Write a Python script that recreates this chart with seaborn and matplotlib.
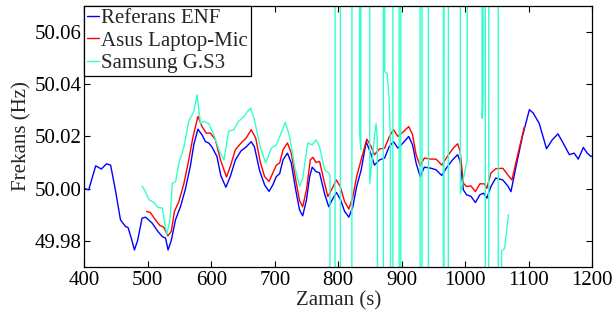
# ENF comparison plot: reference vs. two recording devices

import numpy as np
import pandas as pd
import matplotlib
matplotlib.use("Agg")
import matplotlib.pyplot as plt
import seaborn as sns

# -------------------------------
# 1. Data
# -------------------------------
ref_t = [400, 407, 418, 427, 435, 441.5, 449, 457, 465, 469, 474, 479, 484, 491, 496.5,
         507, 516, 523, 528, 532, 537, 543.7, 551.5, 559, 567, 572.5, 579, 585.5, 591, 596,
         601, 609, 615, 623, 630, 638, 647, 655, 663, 668, 676, 684, 691, 697, 702.5,
         707.7, 713, 720, 726, 733, 739, 744, 750, 755, 759, 765, 770.6, 778.5, 785, 790.6,
         797, 803.6, 810, 816.7, 823, 829, 836, 844, 851, 857, 865, 873, 880, 887, 894,
         902, 911, 917, 922.6, 929, 935.6, 946, 954, 963, 970, 980, 988, 992, 997, 1002,
         1009, 1016, 1023, 1029, 1034, 1040.5, 1048, 1059, 1067, 1072, 1080, 1090, 1101, 1107,
         1116.5, 1128, 1137, 1146, 1153, 1164, 1171.5, 1178, 1186, 1192, 1198, 1200]
ref_f = [50.000, 49.9995, 50.0087, 50.0075, 50.0095, 50.009, 49.9995, 49.988, 49.9854, 49.985,
         49.981, 49.9764, 49.980, 49.9886, 49.989, 49.9867, 49.9835, 49.9815, 49.981, 49.9764,
         49.980, 49.988, 49.993, 49.9995, 50.0085, 50.0168, 50.0228, 50.0206, 50.018, 50.0175,
         50.016, 50.0123, 50.005, 50.0005, 50.0046, 50.011, 50.0145, 50.016, 50.018, 50.016,
         50.007, 50.0014, 49.9989, 50.0014, 50.0046, 50.0057, 50.011, 50.0136, 50.0098, 49.9995,
         49.9918, 49.9895, 49.9957, 50.0046, 50.0082, 50.0065, 50.006, 49.998, 49.993, 49.9957,
         49.9985, 49.9957, 49.9912, 49.989, 49.993, 50.0008, 50.007, 50.018, 50.0136, 50.009,
         50.011, 50.0117, 50.016, 50.018, 50.0155, 50.0175, 50.020, 50.0168, 50.0098, 50.0046,
         50.0082, 50.0078, 50.0072, 50.005, 50.0078, 50.011, 50.013, 50.0104, 49.9995, 49.9976,
         49.997, 49.9946, 49.9976, 49.9982, 49.9963, 50.0008, 50.004, 50.0033, 50.001, 49.9988,
         50.0085, 50.020, 50.0303, 50.029, 50.025, 50.0153, 50.0187, 50.021, 50.018, 50.013,
         50.0136, 50.0113, 50.0158, 50.0136, 50.0123, 50.0125]

asus_t = [498, 504, 512, 519, 525, 531.6, 537, 542, 549, 557, 564.6, 571.4, 579, 585.5, 592,
          598.7, 606.6, 614.5, 624, 630, 638, 647, 655, 663, 670, 677, 684, 691, 697, 702.5,
          707.7, 713, 720, 726, 733, 739, 744, 750, 756, 760, 765, 770.6, 778.5, 783.6, 790.6,
          797, 803, 810, 816.7, 823, 829, 836, 845, 852, 857, 865, 873, 880.6, 887, 894,
          902, 911, 917, 922.6, 929, 935.6, 946, 954, 963, 971, 981, 988, 992, 997, 1002,
          1009, 1016, 1023, 1030, 1034, 1040.5, 1048, 1059, 1067, 1073.5, 1082, 1093]
asus_f = [49.9912, 49.9908, 49.988, 49.9858, 49.9852, 49.9818, 49.9835, 49.9912, 49.995, 50.002,
          50.011, 50.020, 50.0277, 50.0238, 50.0213, 50.0213, 50.0187, 50.011, 50.0044, 50.0085,
          50.0149, 50.0175, 50.0194, 50.0226, 50.0194, 50.0104, 50.0046, 50.0027, 50.006, 50.009,
          50.0098, 50.0149, 50.0175, 50.0136, 50.0033, 49.9954, 49.993, 49.9995, 50.011, 50.012,
          50.010, 50.0104, 50.002, 49.9969, 50.0001, 50.0033, 50.0008, 49.995, 49.9921, 49.9969,
          50.0046, 50.011, 50.019, 50.016, 50.013, 50.0152, 50.0155, 50.020, 50.0226, 50.020,
          50.0217, 50.0238, 50.0207, 50.013, 50.0087, 50.0117, 50.0113, 50.0113, 50.009, 50.012,
          50.0155, 50.0172, 50.0142, 50.002, 50.0008, 50.001, 49.9988, 50.0018, 50.0018, 50.0001,
          50.006, 50.0076, 50.0078, 50.0053, 50.0033, 50.0123, 50.0236]

# Samsung: smooth part, then the estimate breaks down and jumps far off the axis
sams_t = [491, 496.5, 502, 510, 516, 523, 530, 535, 538.7, 544, 549, 557, 564.6, 572.5, 577.7,
          583, 588, 596, 604, 612, 620, 627.5, 635.4, 643, 651, 655, 662, 668, 677, 685.7,
          694.6, 702.5, 710, 716.6, 723.4, 731.3, 739, 744, 752, 759, 765, 770.6, 778.5, 785,
          787, 787.4, 794.8, 795.2, 803.2, 803.6, 821.3, 821.7, 833.3, 833.7, 835.5, 836,
          849.2, 849.6, 857, 859.5, 861.5, 863, 870.8, 871.2, 872.8, 873.2, 877, 880, 882, 884,
          885.8, 886.2, 895.8, 896.2, 898.3, 898.7, 928.8, 929.2, 931.8, 932.2, 941.8, 942.2,
          965.4, 965.8, 966.2, 966.6, 973.2, 973.6, 992, 992.4, 1003, 1004, 1026, 1026.5, 1028,
          1028.5, 1031.4, 1031.8, 1036.8, 1037.2, 1051.8, 1052.2, 1056.8, 1057.2, 1062, 1068]
sams_f = [50.001, 49.9988, 49.9957, 49.9946, 49.9927, 49.9925, 49.9822, 49.988, 50.002, 50.0027,
          50.0098, 50.016, 50.0258, 50.0296, 50.036, 50.025, 50.0258, 50.025, 50.0207, 50.0149,
          50.011, 50.022, 50.0226, 50.0258, 50.0275, 50.029, 50.0309, 50.0264, 50.016, 50.0098,
          50.0155, 50.0168, 50.0213, 50.0255, 50.020, 50.0085, 50.0008, 50.004, 50.0175, 50.0168,
          50.0187, 50.016, 50.0072, 50.006,
          50.005, 49.7, 49.7, 50.3, 50.3, 49.7, 49.7, 50.3, 50.3, 50.021, 50.015, 50.3,
          50.3, 50.002, 50.020, 50.025, 50.019, 49.7, 49.7, 50.3, 50.3, 50.045, 50.044, 50.035,
          50.020, 49.7, 49.7, 50.3, 50.3, 49.7, 49.7, 50.3, 50.3, 49.7, 49.7, 50.3, 50.3, 49.7,
          49.7, 50.3, 50.3, 49.7, 49.7, 50.3, 50.3, 49.998, 50.011, 50.3, 50.3, 50.027, 50.033,
          50.3, 50.3, 49.7, 49.7, 50.3, 50.3, 49.7, 49.7, 49.976, 49.977, 49.99]

labels = ["Referans ENF", "Asus Laptop-Mic", "Samsung G.S3"]
colors = ["#0000FF", "#FF0000", "#33FFCC"]

df = pd.concat([
    pd.DataFrame({"t": ref_t, "f": ref_f, "src": labels[0]}),
    pd.DataFrame({"t": asus_t, "f": asus_f, "src": labels[1]}),
    pd.DataFrame({"t": sams_t, "f": sams_f, "src": labels[2]}),
])

# -------------------------------
# 2. Plot
# -------------------------------
sns.set_style("ticks")
plt.rcParams["font.family"] = ["Liberation Serif", "DejaVu Serif"]

fig = plt.figure(figsize=(6.15, 3.22), dpi=100)
ax = fig.add_axes([0.137, 0.172, 0.826, 0.810])

sns.lineplot(data=df, x="t", y="f", hue="src", palette=dict(zip(labels, colors)),
             estimator=None, sort=False, linewidth=1.0, ax=ax)

ax.set_xlim(400, 1200)
ax.set_ylim(49.97, 50.0702)
ax.set_xticks(np.arange(400, 1201, 100))
yt = [49.98, 50.00, 50.02, 50.04, 50.06]
ax.set_yticks(yt)
ax.set_yticklabels([f"{v:.2f}" for v in yt])
ax.tick_params(direction="in", top=True, right=True, length=4, width=0.8,
               labelsize=15, colors="black")
ax.tick_params(axis="y", pad=2)
ax.tick_params(axis="x", pad=3)
for s in ax.spines.values():
    s.set_linewidth(0.9)
    s.set_color("black")

ax.set_xlabel("Zaman (s)", fontsize=15, labelpad=1)
ax.set_ylabel("Frekans (Hz)", fontsize=15, labelpad=2)

leg = ax.legend(loc="upper left", bbox_to_anchor=(0, 1), borderaxespad=0, fontsize=15,
                handlelength=0.6, handletextpad=0.1, labelspacing=0.15, borderpad=0.12,
                fancybox=False, framealpha=1, edgecolor="black")
leg.get_frame().set_linewidth(0.9)

fig.savefig("out.png", dpi=100)
